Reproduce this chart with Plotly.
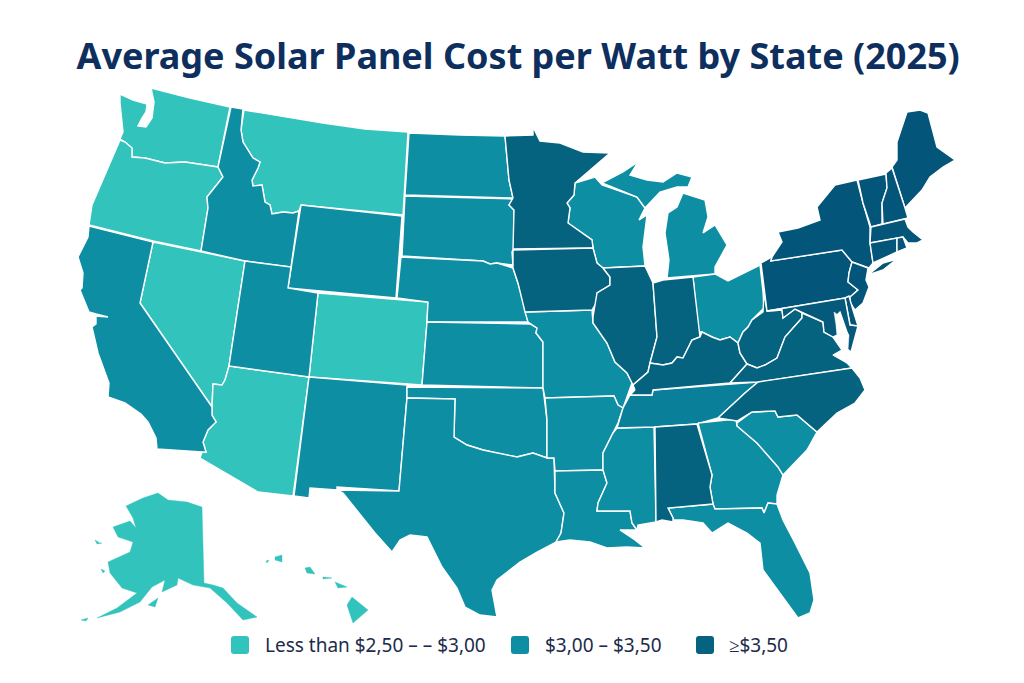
import plotly.graph_objects as go

TITLE = "Average Solar Panel Cost per Watt by State (2025)"
LEGEND_LABELS = ["Less than $2,50 – – $3,00", "$3,00 – $3,50", "≥$3,50"]

LOW = ["WA", "OR", "NV", "MT", "CO", "AZ", "AK", "HI"]
MID = ["CA", "ID", "WY", "UT", "NM", "ND", "SD", "NE", "KS", "OK", "TX", "MO", "AR", "LA", "MS",
       "WI", "MI", "OH", "TN", "GA", "SC", "FL"]
HIGH = ["MN", "IA", "IL", "IN", "KY", "WV", "VA", "NC", "AL", "PA", "NY", "ME", "VT", "NH", "MA",
        "CT", "RI", "NJ", "DE", "MD"]
COLORS = {"low": "#33c3bd", "mid": "#0d8ea3", "high": "#06637f"}
SHADES = {"TN": "#0a7f9a", "PA": "#04557a", "NY": "#04557a", "NJ": "#04557a", "CT": "#04557a",
          "MA": "#04557a", "RI": "#04557a", "VT": "#04557a", "NH": "#04557a", "ME": "#04557a",
          "DE": "#04557a", "MD": "#05597b"}
THIN_BORDER = ["AK", "HI"]

# State outlines; each state is a list of rings.
OUTLINES = {
"WA": [[(120,94),(133,100),(147,104),(146,112),(142,118),(138,126),(146,127),(152,118),(154,102),(151,88),(190,98),(230,107),(218,167),(185,162),(165,163),(145,158),(132,157),(132,148),(125,142),(120,139),(123,132),(122,122),(120,103)]],
"OR": [[(120,140),(125,142),(132,148),(132,157),(145,158),(165,163),(185,162),(218,167),(223,177),(207,197),(208,208),(201,251),(153,241),(89,225),(92,205),(103,180),(112,160)]],
"ID": [[(231,107),(243,109),(241,130),(243,142),(253,158),(260,162),(258,168),(252,180),(253,186),(262,185),(265,202),(270,205),(272,214),(283,212),(293,213),(299,211),(291,267),(245,261),(201,251),(208,208),(207,197),(223,177),(218,167)]],
"MT": [[(244,110),(280,116),(323,123),(365,129),(408,132),(403,215),(301,205),(299,211),(293,213),(283,212),(272,214),(270,205),(265,202),(262,185),(253,186),(252,180),(258,168),(260,162),(253,158),(243,142),(241,130)]],
"WY": [[(301,205),(402,216),(396,298),(288,288)]],
"ND": [[(409,133),(460,135),(505,136),(507,157),(509,180),(513,198),(405,195)]],
"SD": [[(405,196),(513,199),(509,205),(514,210),(514,248),(512,252),(513,265),(497,263),(490,264),(483,261),(402,256)]],
"NE": [[(401,257),(483,261),(490,264),(497,263),(513,268),(518,283),(524,302),(528,322),(427,322),(428,302),(397,298)]],
"CO": [[(318,293),(428,302),(427,322),(422,385),(309,377)]],
"UT": [[(245,261),(291,267),(288,288),(318,293),(309,377),(229,366)]],
"NV": [[(153,242),(245,261),(229,366),(225,380),(222,385),(213,384),(212,407),(140,303)]],
"CA": [[(89,226),(153,242),(140,303),(212,407),(212,415),(216,422),(208,430),(203,442),(206,452),(202,452),(157,449),(156,438),(148,422),(141,414),(125,403),(108,397),(109,383),(98,353),(92,327),(96,324),(96,316),(108,317),(96,314),(89,312),(80,290),(82,288),(83,273),(78,257),(88,237)]],
"AZ": [[(229,366),(309,377),(293,496),(258,492),(200,458),(202,452),(206,452),(203,442),(208,430),(216,422),(212,415),(212,407),(213,384),(222,385),(225,380)]],
"NM": [[(309,377),(407,385),(407,397),(399,491),(337,487),(337,490),(310,488),(309,498),(294,496)]],
"TX": [[(407,398),(455,399),(454,437),(467,445),(483,450),(505,455),(517,457),(533,453),(547,458),(554,458),(555,493),(564,513),(561,533),(556,542),(537,552),(520,562),(497,580),(492,590),(497,617),(480,615),(465,607),(457,588),(442,567),(427,537),(410,535),(400,540),(392,552),(375,533),(363,518),(343,493),(337,490),(399,491)]],
"OK": [[(407,387),(543,388),(547,420),(547,458),(533,453),(517,457),(505,455),(483,450),(467,445),(454,437),(455,399),(407,398)]],
"KS": [[(427,322),(530,324),(537,328),(536,333),(543,342),(543,388),(422,385)]],
"MO": [[(525,312),(592,310),(593,323),(607,343),(615,362),(627,373),(632,383),(628,395),(623,408),(618,405),(614,396),(545,398),(543,388),(543,342),(536,333),(537,328),(530,324),(528,322)]],
"AR": [[(545,398),(614,396),(618,405),(623,408),(618,423),(613,433),(603,453),(603,470),(555,471),(554,458),(547,458),(547,420)]],
"LA": [[(555,471),(603,470),(607,483),(598,503),(597,511),(630,511),(632,523),(637,530),(620,530),(635,540),(645,548),(627,547),(607,548),(590,542),(570,540),(556,542),(561,533),(564,513),(555,493)]],
"MS": [[(617,428),(654,427),(656,522),(638,525),(637,530),(632,523),(630,511),(597,511),(598,503),(607,483),(603,470),(603,453),(613,433)]],
"AL": [[(655,427),(697,424),(712,475),(710,487),(713,504),(668,508),(673,518),(673,522),(662,520),(656,522)]],
"FL": [[(668,508),(713,504),(715,509),(762,508),(764,513),(768,503),(777,504),(783,520),(795,543),(810,573),(814,600),(810,613),(798,618),(785,600),(775,587),(763,570),(760,543),(747,533),(728,523),(712,533),(703,523),(683,520),(673,520),(673,518)]],
"GA": [[(698,423),(736,419),(737,426),(757,443),(778,467),(783,475),(777,495),(777,504),(768,503),(764,513),(762,508),(715,509),(713,504),(710,487),(712,475)]],
"SC": [[(737,423),(752,412),(775,411),(778,417),(797,415),(817,432),(807,450),(787,470),(783,475),(778,467),(757,443),(737,426)]],
"NC": [[(758,382),(852,368),(860,378),(865,390),(855,403),(837,413),(817,432),(797,415),(778,417),(775,411),(752,412),(737,421),(718,418),(735,402),(745,393)]],
"TN": [[(630,395),(652,395),(653,390),(758,382),(745,393),(735,402),(718,418),(697,424),(654,427),(617,428),(623,408)]],
"KY": [[(635,390),(633,385),(648,372),(650,363),(663,365),(672,363),(677,357),(683,358),(692,340),(700,337),(702,332),(712,337),(720,340),(730,337),(738,343),(740,353),(747,364),(730,383),(653,390),(652,395),(630,395)]],
"WV": [[(738,343),(743,332),(748,327),(752,320),(763,312),(764,293),(767,311),(782,310),(783,318),(795,309),(802,313),(802,318),(793,328),(785,337),(777,358),(765,365),(757,368),(747,364),(740,353)]],
"VA": [[(747,364),(757,368),(765,365),(777,358),(785,337),(793,328),(802,318),(802,313),(812,317),(823,322),(824,332),(833,337),(842,350),(833,355),(847,363),(852,368),(758,382),(730,383)]],
"MD": [[(767,311),(845,298),(850,325),(858,326),(851,352),(846,348),(848,335),(840,312),(836,316),(838,335),(833,337),(824,332),(823,322),(812,317),(802,313),(795,309),(783,318),(782,310)]],
"DE": [[(845,298),(849,296),(853,310),(858,326),(850,325)]],
"PA": [[(761,263),(772,257),(771,261),(842,250),(852,262),(849,273),(848,282),(858,290),(850,297),(845,298),(767,311)]],
"NJ": [[(852,262),(868,268),(866,280),(869,287),(863,303),(855,310),(850,302),(850,297),(858,290),(848,282),(849,273)]],
"NY": [[(772,257),(782,242),(778,232),(798,228),(820,220),(817,207),(835,185),(857,180),(863,203),(870,227),(870,242),(873,263),(869,268),(852,262),(842,250),(771,261)],
       [(868,275),(883,263),(897,259),(883,270)]],
"VT": [[(858,180),(886,174),(887,188),(882,203),(882,224),(871,227),(863,203)]],
"NH": [[(886,173),(892,168),(905,208),(908,218),(883,224),(882,203),(887,188)]],
"ME": [[(892,167),(897,160),(897,142),(907,112),(920,110),(928,113),(937,147),(955,160),(943,167),(930,177),(922,190),(905,208)]],
"MA": [[(871,227),(905,219),(908,227),(913,232),(923,240),(917,243),(908,243),(903,237),(870,243)]],
"CT": [[(870,243),(897,238),(897,252),(873,263)]],
"RI": [[(897,238),(903,237),(907,248),(897,252)]],
"OH": [[(693,277),(715,274),(728,281),(760,265),(763,292),(764,308),(752,320),(748,327),(743,332),(738,343),(730,337),(720,340),(712,337),(702,332),(698,332)]],
"IN": [[(653,283),(663,280),(693,277),(699,332),(700,337),(692,340),(683,358),(677,357),(672,363),(663,365),(650,363),(657,337),(655,310)]],
"IL": [[(603,268),(645,266),(653,283),(655,310),(657,337),(650,363),(648,372),(633,385),(627,373),(615,362),(607,343),(593,323),(593,317),(597,293),(610,285),(610,277)]],
"WI": [[(575,183),(595,177),(602,185),(637,197),(645,208),(639,220),(647,215),(643,247),(645,266),(603,268),(597,263),(593,248),(592,240),(568,223),(570,208),(567,203),(574,195)]],
"MN": [[(505,136),(533,135),(533,127),(537,135),(540,141),(560,143),(583,152),(610,153),(590,170),(575,183),(574,195),(567,203),(570,208),(568,223),(592,240),(593,248),(513,249),(514,210),(509,205),(513,198),(509,180),(507,157)]],
"IA": [[(513,250),(593,248),(597,263),(603,268),(610,277),(610,285),(597,293),(598,300),(592,310),(525,312),(518,283),(513,268),(513,258)]],
"MI": [[(602,183),(623,172),(638,162),(630,175),(647,180),(663,182),(677,173),(692,177),(688,187),(677,187),(660,192),(645,208),(637,197)],
       [(683,193),(705,200),(708,217),(703,233),(715,225),(727,245),(715,267),(715,274),(667,278),(669,260),(665,233),(668,213),(677,207)]],
"AK": [[(158,493),(168,500),(187,502),(202,507),(204,583),(213,585),(223,588),(237,603),(257,617),(243,620),(227,603),(210,588),(193,585),(178,578),(177,585),(162,592),(165,580),(152,587),(140,602),(120,612),(97,618),(117,608),(137,593),(122,588),(110,573),(108,562),(130,552),(133,542),(118,537),(113,527),(130,521),(136,528),(133,518),(126,506),(143,498)],
       [(148,605),(158,598),(155,607)], [(81,620),(88,618),(86,621)], [(95,540),(100,543),(102,543),(97,544)], [(101,569),(105,571),(103,573)]],
"HI": [[(352,597),(368,610),(353,623),(347,605)], [(335,582),(347,587),(338,588)], [(305,568),(310,567),(315,574),(307,573)],
       [(275,557),(282,555),(282,562),(275,560)], [(266,561),(269,560),(267,563)], [(323,577),(332,578),(323,579)]],
}
CHESAPEAKE = [(834,312),(838,315),(843,326),(849,335),(848,350),(852,366),(846,362),(842,350),(837,336),(836,325)]


def ring_xy(rings):
    xs, ys = [], []
    for ring in rings:
        xs += [p[0] for p in ring] + [ring[0][0], None]
        ys += [p[1] for p in ring] + [ring[0][1], None]
    return xs, ys


fig = go.Figure()
tiers = [("low", LOW), ("mid", MID), ("high", HIGH)]
for tier, states in tiers:
    for st in states:
        xs, ys = ring_xy(OUTLINES[st])
        fill = SHADES.get(st, COLORS[tier])
        border = dict(color=fill, width=0.4) if st in THIN_BORDER else dict(color="white", width=1.4)
        fig.add_trace(go.Scatter(x=xs, y=ys, mode="lines", fill="toself", name=st, fillcolor=fill,
                                 line=border, hoverinfo="name", showlegend=False))
wx, wy = ring_xy([CHESAPEAKE])
fig.add_trace(go.Scatter(x=wx, y=wy, mode="lines", fill="toself", fillcolor="white",
                         line=dict(color="white", width=0.5), hoverinfo="skip", showlegend=False))

# legend: rounded swatches and labels
swatch_x = [231, 511, 696]
label_x = [263, 543, 727]
swatch_colors = [COLORS["low"], COLORS["mid"], COLORS["high"]]
shapes, annotations = [], []
for sx, lx, col, text in zip(swatch_x, label_x, swatch_colors, LEGEND_LABELS):
    x0, x1, y0, y1, r = sx, sx + 18, 636, 654, 3
    shapes.append(dict(type="path", xref="x", yref="y", fillcolor=col, line=dict(width=0),
                       path=f"M{x0+r},{y0} L{x1-r},{y0} Q{x1},{y0} {x1},{y0+r} L{x1},{y1-r} Q{x1},{y1} {x1-r},{y1} "
                            f"L{x0+r},{y1} Q{x0},{y1} {x0},{y1-r} L{x0},{y0+r} Q{x0},{y0} {x0+r},{y0} Z"))
    annotations.append(dict(x=lx, y=645, xref="x", yref="y", text=text, showarrow=False, xanchor="left",
                            yanchor="middle", font=dict(family="Noto Sans", size=19, color="#1c2b4a")))

fig.update_layout(
    margin=dict(l=0, r=0, t=0, b=0), paper_bgcolor="white", plot_bgcolor="white",
    xaxis=dict(range=[0, 1024], visible=False, fixedrange=True),
    yaxis=dict(range=[683, 0], visible=False, fixedrange=True),
    showlegend=False, shapes=shapes, annotations=annotations,
    title=dict(text="<b>" + TITLE + "</b>", x=0.506, y=0.917, xanchor="center", yanchor="middle",
               font=dict(family="Noto Sans", size=36, color="#0e2f5e")),
)
fig.write_html("out.html", default_width="1024px", default_height="683px",
               config={"displayModeBar": False},
               post_script="document.body.style.margin='0';window.dispatchEvent(new Event('resize'));")
